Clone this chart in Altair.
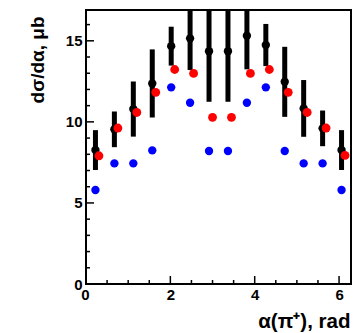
import altair as alt
import pandas as pd

# bin centres (rad)
x_centers = [0.224, 0.673, 1.122, 1.571, 2.020, 2.468, 2.917, 3.366, 3.815, 4.264, 4.712, 5.161, 5.610, 6.059]
black_vals = [8.26, 9.54, 10.79, 12.37, 14.67, 15.15, 14.36, 14.36, 15.31, 14.74, 12.47, 10.83, 9.60, 8.26]
black_errs = [1.23, 1.10, 1.70, 2.10, 1.20, 1.95, 3.12, 3.12, 2.07, 1.30, 2.16, 1.75, 1.10, 1.23]
red_vals = [7.91, 9.62, 10.58, 11.82, 13.23, 12.99, 10.28, 10.28, 12.99, 13.23, 11.82, 10.58, 9.62, 7.93]
blue_vals = [5.80, 7.44, 7.44, 8.24, 12.13, 11.18, 8.20, 8.20, 11.18, 12.13, 8.20, 7.44, 7.44, 5.80]

x_major = [0, 2, 4, 6]
x_minor = [0.5, 1, 1.5, 2.5, 3, 3.5, 4.5, 5, 5.5]
y_major = [0, 5, 10, 15]
y_minor = [1, 2, 3, 4, 6, 7, 8, 9, 11, 12, 13, 14, 16]

W, H = 265, 274
FONT = "Liberation Sans"

df = pd.DataFrame({
    "x": x_centers,
    "black": black_vals,
    "lo": [v - e for v, e in zip(black_vals, black_errs)],
    "hi": [v + e for v, e in zip(black_vals, black_errs)],
    "red": red_vals,
    "blue": blue_vals,
})

xs = alt.Scale(domain=[0, 6.2832], nice=False, zero=False)
ys = alt.Scale(domain=[0, 16.9], nice=False, zero=False)

x_axis = alt.Axis(values=x_major, format="d", labelFont=FONT, labelFontSize=15, labelFontWeight="bold",
                  labelColor="black", labelPadding=3, ticks=False, domain=False, grid=False,
                  labelAlign=alt.condition("datum.value == 0", alt.value("right"), alt.value("center")),
                  labelOffset=alt.condition("datum.value == 0", alt.value(3), alt.value(0)),
                  title="α(π⁺), rad", titleFont=FONT, titleFontSize=20.5, titleFontWeight="bold",
                  titleColor="black", titleAlign="right", titleBaseline="alphabetic",
                  titleX=264, titleY=43, titleAngle=0)
y_axis = alt.Axis(values=y_major, format="d", labelFont=FONT, labelFontSize=15, labelFontWeight="bold",
                  labelColor="black", labelPadding=4, ticks=False, domain=False, grid=False,
                  title="dσ/dα,  μb", titleFont=FONT, titleFontSize=19, titleFontWeight="bold",
                  titleColor="black", titleAlign="right", titleBaseline="alphabetic",
                  titleAngle=270, titleX=-43, titleY=6)

def X(f):
    return alt.X(f, scale=xs, axis=x_axis)

def Y(f):
    return alt.Y(f, scale=ys, axis=y_axis)

base = alt.Chart(df)

bars = base.mark_rule(color="black", strokeWidth=5, clip=True).encode(
    x=X("x:Q"), y=Y("lo:Q"), y2="hi:Q")
black_pts = base.mark_circle(color="black", opacity=1, size=70).encode(x=X("x:Q"), y=Y("black:Q"))
blue_pts = base.mark_circle(color="#0000ff", opacity=1, size=70).encode(x=X("x:Q"), y=Y("blue:Q"))
red_pts = base.mark_circle(color="#ff0000", opacity=1, size=78, xOffset=3.5).encode(x=X("x:Q"), y=Y("red:Q"))

def xticks(vals, length):
    return alt.Chart(pd.DataFrame({"t": vals})).mark_rule(color="black", strokeWidth=1.5).encode(
        x=X("t:Q"), y=alt.value(H), y2=alt.value(H - length))

def yticks(vals, length):
    return alt.Chart(pd.DataFrame({"t": vals})).mark_rule(color="black", strokeWidth=1.5).encode(
        y=Y("t:Q"), x=alt.value(0), x2=alt.value(length))

chart = alt.layer(
    bars, black_pts, blue_pts, red_pts,
    xticks(x_major, 8), xticks(x_minor, 4), yticks(y_major, 8), yticks(y_minor, 4),
).properties(
    width=W, height=H,
    autosize=alt.AutoSizeParams(type="none"),
    padding={"left": 86, "top": 10, "right": 6, "bottom": 49},
    background="white",
).configure_view(stroke="black", strokeWidth=2)

chart.save("out.html", embed_options={"renderer": "svg", "actions": False})
